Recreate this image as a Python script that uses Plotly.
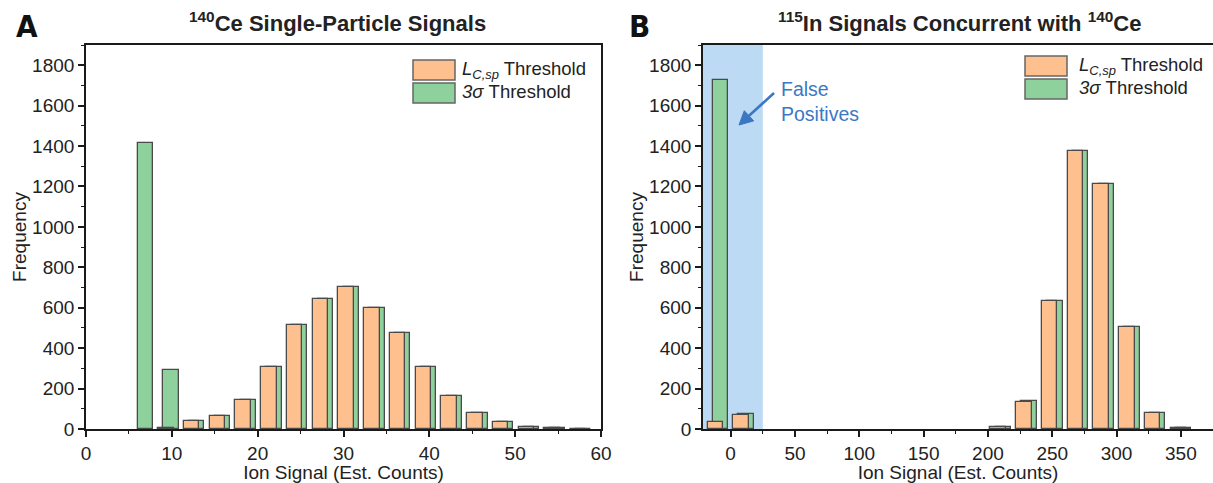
import plotly.graph_objects as go

# ---------------- data ----------------
bins_A = [6, 9, 12, 15, 18, 21, 24, 27, 30, 33, 36, 39, 42, 45, 48, 51, 54, 57]
lcsp_A = [0, 5, 40, 65, 145, 305, 516, 641, 705, 597, 477, 305, 163, 77, 36, 8, 5, 2]
sig3_A = [1415, 290, 40, 65, 145, 305, 516, 641, 705, 597, 477, 305, 163, 77, 36, 8, 5, 2]

bins_B = [-20, 0, 20, 40, 60, 80, 100, 120, 140, 160, 180, 200, 220, 240, 260, 280, 300, 320, 340]
lcsp_B = [35, 67, 0, 0, 0, 0, 0, 0, 0, 0, 0, 12, 135, 635, 1375, 1213, 507, 77, 6]
sig3_B = [1725, 76, 0, 0, 0, 0, 0, 0, 0, 0, 0, 12, 137, 635, 1375, 1213, 507, 77, 6]

xticks_A = [0, 10, 20, 30, 40, 50, 60]
xticks_B = [0, 50, 100, 150, 200, 250, 300, 350]
yticks = [0, 200, 400, 600, 800, 1000, 1200, 1400, 1600, 1800]

title_A = "<sup>140</sup>Ce Single-Particle Signals"
title_B = "<sup>115</sup>In Signals Concurrent with <sup>140</sup>Ce"
leg_lcsp = "<i>L</i><sub><i>C,sp</i></sub> Threshold"
leg_3s = "<i>3σ</i> Threshold"

# ---------------- style ----------------
W, H = 1213, 483
TOP, BOT = 45, 429
ORANGE = "#FEC08F"
GREEN = "#8FD19D"
EDGE = "#4a4a4a"
AXC = "#1a1a1a"
FONT = "Liberation Sans, Arial, sans-serif"
TXT = "#222222"
BLUE = "#3B78C4"
FS = 19


def px(x):
    return x / W


def py(y):
    return (BOT - y) / (BOT - TOP)


def nonzero(xs, ys):
    pairs = [(x, y) for x, y in zip(xs, ys) if y > 0]
    return [p[0] for p in pairs], [p[1] for p in pairs]


fig = go.Figure()

# panel A bars (green behind, orange in front)
xa, ya = nonzero(bins_A, sig3_A)
fig.add_bar(x=xa, y=ya, width=1.8, offset=0, marker=dict(color=GREEN, line=dict(color=EDGE, width=1.3)),
            xaxis="x", yaxis="y", name="3σ Threshold", showlegend=False)
xa, ya = nonzero(bins_A, lcsp_A)
fig.add_bar(x=xa, y=ya, width=1.8, offset=-0.6, marker=dict(color=ORANGE, line=dict(color=EDGE, width=1.3)),
            xaxis="x", yaxis="y", name="L Threshold", showlegend=False)
# panel B bars
xb, yb = nonzero(bins_B, sig3_B)
fig.add_bar(x=xb, y=yb, width=12, offset=6, marker=dict(color=GREEN, line=dict(color=EDGE, width=1.3)),
            xaxis="x2", yaxis="y2", name="3σ Threshold", showlegend=False)
xb, yb = nonzero(bins_B, lcsp_B)
fig.add_bar(x=xb, y=yb, width=12, offset=2, marker=dict(color=ORANGE, line=dict(color=EDGE, width=1.3)),
            xaxis="x2", yaxis="y2", name="L Threshold", showlegend=False)

axis_common = dict(showline=True, linecolor=AXC, linewidth=1.6, ticks="outside", ticklen=6, tickwidth=1.5,
                   tickcolor=AXC, showgrid=False, zeroline=False, automargin=False,
                   tickfont=dict(family=FONT, size=FS, color=TXT),
                   minor=dict(ticks="outside", ticklen=3.5, tickwidth=1.3, tickcolor=AXC, showgrid=False))
title_font = dict(family=FONT, size=FS, color=TXT)

fig.update_layout(
    width=W, height=H, autosize=False,
    margin=dict(l=0, r=0, t=TOP, b=H - BOT, pad=0, autoexpand=False),
    plot_bgcolor="white", paper_bgcolor="white",
    barmode="overlay", bargap=0,
    showlegend=False,
    xaxis=dict(axis_common, domain=[px(86), px(601)], range=[0, 60], tickvals=xticks_A, mirror=True,
               anchor="y", minor=dict(axis_common["minor"], dtick=5, tick0=0),
               title=dict(text="Ion Signal (Est. Counts)", font=title_font, standoff=3)),
    yaxis=dict(axis_common, domain=[0, 1], range=[0, 1900], tickvals=yticks, mirror=True, anchor="x",
               minor=dict(axis_common["minor"], dtick=100, tick0=0),
               title=dict(text="Frequency", font=title_font, standoff=0)),
    xaxis2=dict(axis_common, domain=[px(703), 1], range=[-21.5, 375], tickvals=xticks_B, mirror=True,
                anchor="y2", minor=dict(axis_common["minor"], dtick=25, tick0=0),
                title=dict(text="Ion Signal (Est. Counts)", font=title_font, standoff=3)),
    yaxis2=dict(axis_common, domain=[0, 1], range=[0, 1900], tickvals=yticks, mirror=False, anchor="x2",
                minor=dict(axis_common["minor"], dtick=100, tick0=0),
                title=dict(text="Frequency", font=title_font, standoff=0)),
)

shapes = []
# false-positive shaded band in panel B
shapes.append(dict(type="rect", xref="x2", yref="y2 domain", x0=-21.5, x1=25, y0=0, y1=1,
                   fillcolor="#BCDAF3", line=dict(width=0), layer="below"))

annotations = []
# legends (manual, large swatches)
for (x0, x1, ya_, yb_, xt) in [(413, 455, 60, 103, 460), (1025, 1067, 56, 99, 1077)]:
    ym = (ya_ + yb_) / 2
    shapes.append(dict(type="rect", xref="paper", yref="paper", x0=px(x0), x1=px(x1), y0=py(ya_), y1=py(ym - 1.5),
                       fillcolor=ORANGE, line=dict(color="#666666", width=1.5)))
    shapes.append(dict(type="rect", xref="paper", yref="paper", x0=px(x0), x1=px(x1), y0=py(ym + 1.5), y1=py(yb_),
                       fillcolor=GREEN, line=dict(color="#666666", width=1.5)))
    annotations.append(dict(xref="paper", yref="paper", x=px(xt), y=py((ya_ + ym) / 2 - 0.5), text=leg_lcsp,
                            showarrow=False, xanchor="left", yanchor="middle",
                            font=dict(family=FONT, size=18.5, color=TXT)))
    annotations.append(dict(xref="paper", yref="paper", x=px(xt), y=py((ym + yb_) / 2 - 1), text=leg_3s,
                            showarrow=False, xanchor="left", yanchor="middle",
                            font=dict(family=FONT, size=18.5, color=TXT)))

# titles and panel letters
annotations.append(dict(xref="paper", yref="paper", x=px(337), y=py(22), text="<b>" + title_A + "</b>",
                        showarrow=False, xanchor="center", yanchor="middle", font=dict(family=FONT, size=22, color=TXT)))
annotations.append(dict(xref="paper", yref="paper", x=px(959), y=py(22), text="<b>" + title_B + "</b>",
                        showarrow=False, xanchor="center", yanchor="middle", font=dict(family=FONT, size=22, color=TXT)))
annotations.append(dict(xref="paper", yref="paper", x=px(27), y=py(26), text="<b>A</b>",
                        showarrow=False, xanchor="center", yanchor="middle",
                        font=dict(family="Liberation Sans Narrow, DejaVu Sans Condensed, Liberation Sans", size=31, color="#111111")))
annotations.append(dict(xref="paper", yref="paper", x=px(639), y=py(26), text="<b>B</b>",
                        showarrow=False, xanchor="center", yanchor="middle",
                        font=dict(family="Liberation Sans Narrow, DejaVu Sans Condensed, Liberation Sans", size=31, color="#111111")))

# false positives label
annotations.append(dict(xref="paper", yref="paper", x=px(779), y=py(101), text="False<br>Positives",
                        showarrow=False, xanchor="left", yanchor="middle", align="left",
                        font=dict(family=FONT, size=19.5, color=BLUE)))
# arrow drawn as shapes (shaft + head)
tail = (774, 93)
head = (739, 125)
neck = (749, 115.8)
shapes.append(dict(type="line", xref="paper", yref="paper", x0=px(tail[0]), y0=py(tail[1]),
                   x1=px(neck[0]), y1=py(neck[1]), line=dict(color=BLUE, width=2.6)))
shapes.append(dict(type="path", xref="paper", yref="paper",
                   path="M {} {} L {} {} L {} {} Z".format(px(head[0]), py(head[1]),
                                                         px(neck[0] + 4.7), py(neck[1] + 5.1),
                                                         px(neck[0] - 4.7), py(neck[1] - 5.1)),
                   fillcolor=BLUE, line=dict(color=BLUE, width=1)))

fig.update_layout(shapes=shapes, annotations=annotations)

fig.write_html("out.html", config={"displayModeBar": False},
               post_script="document.body.style.margin='0';document.body.style.padding='0';"
                           "document.documentElement.style.overflow='hidden';document.body.style.overflow='hidden';")
